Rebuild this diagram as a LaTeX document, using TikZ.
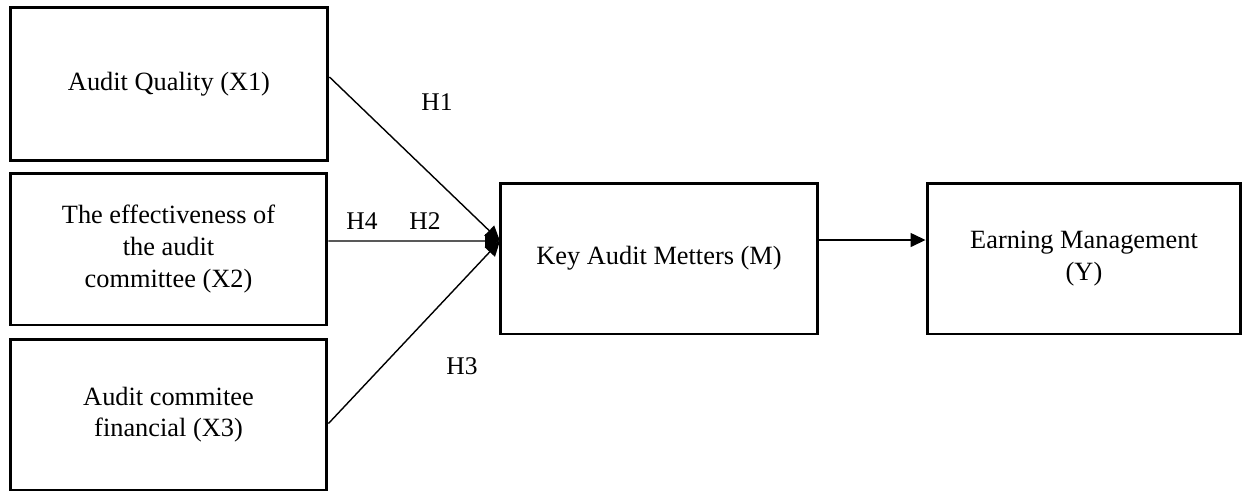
\documentclass[tikz,border=0pt]{standalone}
\usepackage{fontspec}
\setmainfont{Liberation Serif}
\usetikzlibrary{arrows.meta, positioning}
\tikzset{
  var/.style={draw=black, line width=1.7pt, inner sep=2pt, align=center,
              font=\fontsize{15}{18}\selectfont},
  hyp/.style={inner sep=0pt, font=\fontsize{14.5}{17}\selectfont},
  flow/.style={-{Triangle[length=0.3cm, width=0.28cm]}, line width=0.8pt, draw=black},
}

\begin{document}
\begin{tikzpicture}[x=0.02cm, y=-0.02cm]
  \useasboundingbox (0,0) rectangle (1244,491);
  % independent variables
  \node[var, minimum width=6.36cm, minimum height=3.08cm] (x1) at (169,84) {Audit Quality (X1)};
  \node[var, minimum width=6.34cm, minimum height=3.04cm] (x2) at (168.5,249)
        {The effectiveness of\\the audit\\committee (X2)};
  \node[var, minimum width=6.34cm, minimum height=3.02cm] (x3) at (168.5,414.5)
        {Audit commitee\\financial (X3)};
  % mediator and outcome
  \node[var, minimum width=6.36cm, minimum height=3.02cm] (km) at (659,258.5) {Key Audit Metters (M)};
  \node[var, minimum width=6.28cm, minimum height=3.02cm] (em) at (1084,258.5)
        {Earning Management\\(Y)};
  \coordinate (kin) at (500,241);
  \draw[flow] ([yshift=0.14cm]x1.east) -- (kin);
  \draw[flow] ([yshift=0.16cm]x2.east) -- (kin);
  \draw[flow] ([yshift=-0.18cm]x3.east) -- (kin);
  \draw[flow] ([yshift=0.37cm]km.east) -- ([yshift=0.37cm]em.west);
  % hypotheses
  \node[hyp] (h1) at (437,102) {H1};
  \node[hyp] (h4) at (362,221) {H4};
  \node[hyp] (h2) at (425,221) {H2};
  \node[hyp] (h3) at (462,366) {H3};
\end{tikzpicture}
\end{document}
